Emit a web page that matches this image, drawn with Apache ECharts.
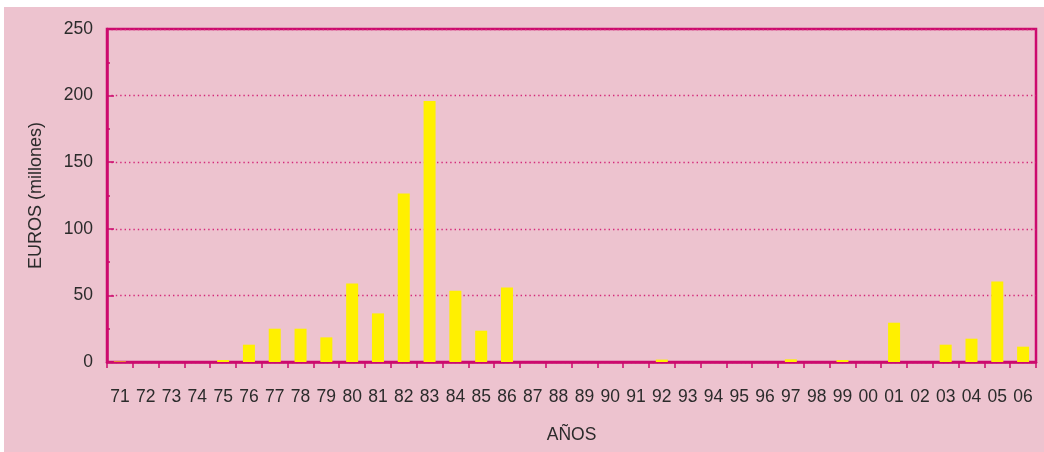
<!DOCTYPE html>
<html>
<head>
<meta charset="utf-8">
<script src="https://cdn.jsdelivr.net/npm/echarts@6/dist/echarts.min.js"></script>
<style>
  html, body { margin: 0; padding: 0; background: #ffffff; }
  #wrap { position: absolute; left: 4px; top: 7px; width: 1040px; height: 445px; background: #edc3cf; }
  #chart { width: 1040px; height: 445px; }
</style>
</head>
<body>
<div id="wrap"><div id="chart"></div></div>
<script>
const years = ['71','72','73','74','75','76','77','78','79','80','81','82','83','84','85','86','87','88','89','90','91','92','93','94','95','96','97','98','99','00','01','02','03','04','05','06'];
const euros = [0.4, 0, 0, 0, 1.5, 13, 25, 25, 18.5, 59, 36.5, 126.5, 196, 53.5, 23.5, 56, 0, 0, 0, 0, 0, 1.8, 0, 0, 0, 0, 2, 0, 1.5, 0, 29.5, 0, 13, 17.5, 60.5, 11.5];
const yTicks = { min: 0, max: 250, interval: 50 };
const xTitle = 'AÑOS';
const yTitle = 'EUROS (millones)';

const magenta = '#cc0a6e';
const textColor = '#2b2b2b';
const font = 'Liberation Sans, Arial, Helvetica, sans-serif';

const chart = echarts.init(document.getElementById('chart'), null, { renderer: 'canvas' });
chart.setOption({
  animation: false,
  backgroundColor: 'transparent',
  grid: {
    left: 103, top: 22, right: 8, bottom: 90,
    show: true, borderColor: magenta, borderWidth: 2.5, backgroundColor: 'transparent'
  },
  xAxis: {
    type: 'category',
    data: years,
    boundaryGap: true,
    name: xTitle,
    nameLocation: 'middle',
    nameGap: 64,
    nameTextStyle: { color: textColor, fontSize: 17.5, fontFamily: font },
    axisLine: { lineStyle: { color: magenta, width: 2.5 } },
    axisTick: { show: true, length: 6, lineStyle: { color: magenta, width: 1.5 } },
    axisLabel: { color: textColor, fontSize: 17.5, fontFamily: font, margin: 26, interval: 0 },
    splitLine: { show: false }
  },
  yAxis: {
    type: 'value',
    min: yTicks.min, max: yTicks.max, interval: yTicks.interval,
    name: yTitle,
    nameLocation: 'middle',
    nameGap: 62,
    nameTextStyle: { color: textColor, fontSize: 18, fontFamily: font },
    axisLine: { show: true, lineStyle: { color: magenta, width: 2.5 } },
    axisTick: { show: true, inside: true, length: 7, lineStyle: { color: magenta, width: 1.5 } },
    minorTick: { show: true, splitNumber: 2, length: 3, lineStyle: { color: magenta, width: 1.5 } },
    axisLabel: { color: textColor, fontSize: 17.5, fontFamily: font, margin: 14 },
    splitLine: { show: true, lineStyle: { color: '#d42a7a', width: 1.4, type: [1.4, 3] } }
  },
  series: [{
    type: 'bar',
    data: euros,
    barWidth: 12,
    itemStyle: { color: '#fff000' }
  }]
});
</script>
</body>
</html>
